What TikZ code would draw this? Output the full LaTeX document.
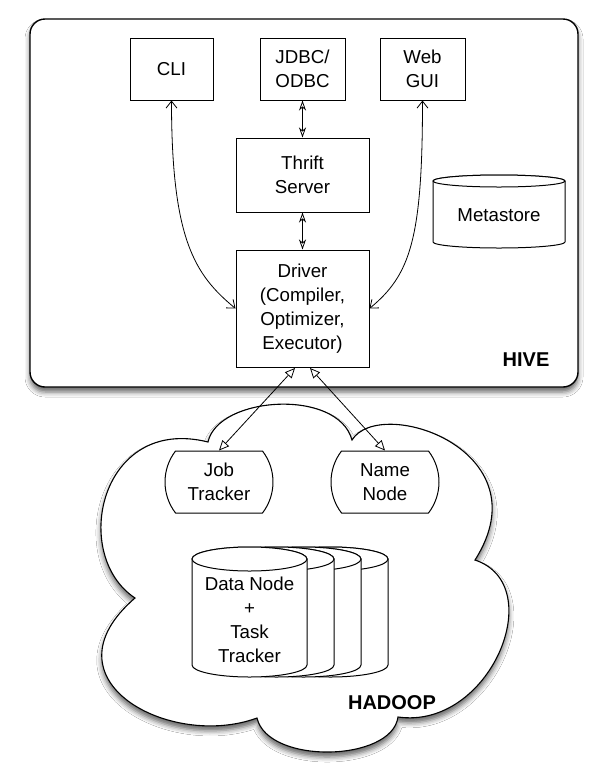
\documentclass[tikz,border=0pt]{standalone}
\usepackage{fontspec}
\setmainfont{Liberation Sans}
\usetikzlibrary{arrows.meta,shapes.misc,shadows.blur}
\newcommand{\lblfont}{\fontsize{18.7}{23.9}\selectfont}
\newcommand{\ttlfont}{\fontsize{20}{24}\selectfont\bfseries}
\newcommand{\drawcyl}[5]{%
  \filldraw[cyl] (#1-#2,#3) -- (#1-#2,#4) arc[start angle=180,end angle=0,x radius=#2,y radius=#5]
     -- (#1+#2,#3) arc[start angle=0,end angle=-180,x radius=#2,y radius=#5] -- cycle;
  \draw[cyl] (#1,#3) ellipse[x radius=#2,y radius=#5];}
\begin{document}
\begin{tikzpicture}[x=1pt,y=-1pt,
  box/.style={draw, line width=1pt, fill=white, align=center, font=\lblfont, inner sep=0pt},
  term/.style={draw, line width=1pt, fill=white, align=center, font=\lblfont, inner sep=0pt,
     rounded rectangle, rounded rectangle arc length=75, minimum width=108pt, minimum height=62pt},
  txt/.style={align=center, font=\lblfont, inner sep=0pt},
  ttl/.style={font=\ttlfont, inner sep=0pt},
  cyl/.style={draw, line width=1pt, fill=white},
  curvarr/.style={line width=0.8pt, {Straight Barb[length=7pt,width=11pt]}-{Straight Barb[length=7pt,width=11pt]}},
  shortarr/.style={line width=0.8pt, {Stealth[open,length=10pt,width=7pt,inset=3pt]}-{Stealth[open,length=10pt,width=7pt,inset=3pt]}},
  triarr/.style={line width=0.8pt, {Triangle[length=10pt,width=9pt,fill=white]}-{Triangle[length=10pt,width=9pt,fill=white]}},
  shad/.style={blur shadow={shadow xshift=0pt, shadow yshift=-5pt, shadow blur radius=5pt, shadow opacity=60}},
]
\fill[white] (0,0) rectangle (598,772);
\useasboundingbox (0,0) rectangle (598,772);

% HIVE container
\node[draw, line width=1.4pt, fill=white, rounded corners=15pt, minimum width=548pt, minimum height=368pt, shad] (hive) at (304,203) {};

% HADOOP cloud
\path[draw, line width=1.1pt, fill=white, shad] (208,442) .. controls (218,396) and (338,388) .. (352,440)
  .. controls (380,395) and (545,450) .. (475,560)
  .. controls (550,585) and (490,730) .. (398,717)
  .. controls (392,762) and (268,765) .. (257,718)
  .. controls (170,750) and (40,680) .. (135,598)
  .. controls (70,555) and (100,415) .. (208,442) -- cycle;

% HIVE nodes
\node[box, minimum width=83pt, minimum height=62pt] (cli) at (171.5,69) {CLI};
\node[box, minimum width=85pt, minimum height=62pt] (jdbc) at (302.5,69) {JDBC/\\ODBC};
\node[box, minimum width=85pt, minimum height=62pt] (web) at (422.5,69) {Web\\GUI};
\node[box, minimum width=133pt, minimum height=74pt] (thrift) at (302.5,175) {Thrift\\Server};
\node[box, minimum width=133pt, minimum height=117pt] (drv) at (302.5,308.5) {Driver\\(Compiler,\\Optimizer,\\Executor)};

\drawcyl{499}{66}{181}{242}{6}
\node[txt] (ms) at (499,215) {Metastore};

\node[ttl] (hivelbl) at (526,360) {HIVE};

% HADOOP nodes
\node[term] (jt) at (219,482) {Job\\Tracker};
\node[term] (nn) at (385,482) {Name\\Node};

\drawcyl{330.5}{57.5}{559}{665}{12}
\drawcyl{303.5}{57.5}{559}{665}{12}
\drawcyl{276.5}{57.5}{559}{665}{12}
\drawcyl{249.5}{57.5}{559}{665}{12}
\node[txt] (dn) at (249.5,620) {Data Node\\+\\Task\\Tracker};

\node[ttl] (hadooplbl) at (392,703) {HADOOP};

% connectors
\draw[curvarr] (cli.south) .. controls (171.5,240) and (195,275) .. (drv.west);
\draw[curvarr] (web.south) .. controls (422.5,240) and (410,275) .. (drv.east);
\draw[shortarr] (jdbc.south) -- (thrift.north);
\draw[shortarr] (thrift.south) -- (drv.north);
\coordinate (d1) at (295,368);
\coordinate (d2) at (310,368);
\draw[triarr] (d1) -- (jt.north);
\draw[triarr] (d2) -- (nn.north);
\end{tikzpicture}
\end{document}
